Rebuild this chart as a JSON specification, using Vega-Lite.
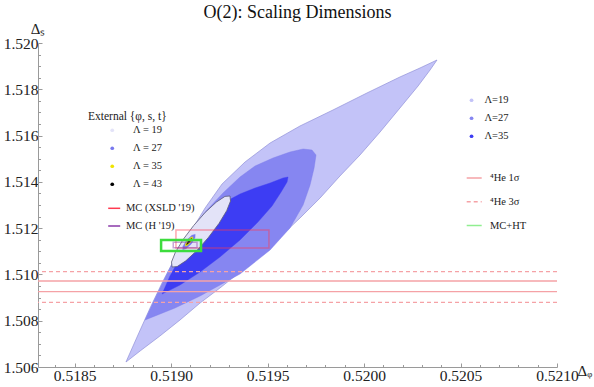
{
  "$schema": "https://vega.github.io/schema/vega-lite/v6.json",
  "width": 519,
  "height": 324,
  "autosize": "none",
  "padding": {"left": 38, "top": 43, "right": 37, "bottom": 20},
  "background": "white",
  "title": {"text": "O(2): Scaling Dimensions", "font": "Liberation Serif", "fontSize": 18, "fontWeight": "normal", "color": "#111", "anchor": "middle", "frame": "group", "offset": 5, "dy": 20, "baseline": "alphabetic"},
  "config": {
    "view": {"stroke": null},
    "legend": {"labelFont": "Liberation Serif", "labelFontSize": 10.5, "titleFont": "Liberation Serif", "titleFontSize": 11.5, "titleFontWeight": "normal", "titleColor": "#222", "labelColor": "#222", "padding": 0, "labelLimit": 400, "titleLimit": 400, "symbolOpacity": 1}
  },
  "datasets": {
    "main": [
      {"lam": "Λ=19", "i": 0, "x": 0.518766, "y": 1.506216},
      {"lam": "Λ=19", "i": 1, "x": 0.518828, "y": 1.507383},
      {"lam": "Λ=19", "i": 2, "x": 0.518891, "y": 1.508549},
      {"lam": "Λ=19", "i": 3, "x": 0.518953, "y": 1.509630},
      {"lam": "Λ=19", "i": 4, "x": 0.519020, "y": 1.510710},
      {"lam": "Λ=19", "i": 5, "x": 0.519098, "y": 1.511790},
      {"lam": "Λ=19", "i": 6, "x": 0.519176, "y": 1.512870},
      {"lam": "Λ=19", "i": 7, "x": 0.519264, "y": 1.513907},
      {"lam": "Λ=19", "i": 8, "x": 0.519383, "y": 1.514858},
      {"lam": "Λ=19", "i": 9, "x": 0.519513, "y": 1.515679},
      {"lam": "Λ=19", "i": 10, "x": 0.519668, "y": 1.516414},
      {"lam": "Λ=19", "i": 11, "x": 0.519839, "y": 1.517105},
      {"lam": "Λ=19", "i": 12, "x": 0.520015, "y": 1.517840},
      {"lam": "Λ=19", "i": 13, "x": 0.520186, "y": 1.518531},
      {"lam": "Λ=19", "i": 14, "x": 0.520290, "y": 1.518920},
      {"lam": "Λ=19", "i": 15, "x": 0.520378, "y": 1.519265},
      {"lam": "Λ=19", "i": 16, "x": 0.520342, "y": 1.518833},
      {"lam": "Λ=19", "i": 17, "x": 0.520280, "y": 1.518142},
      {"lam": "Λ=19", "i": 18, "x": 0.520186, "y": 1.517191},
      {"lam": "Λ=19", "i": 19, "x": 0.520083, "y": 1.516154},
      {"lam": "Λ=19", "i": 20, "x": 0.519979, "y": 1.515161},
      {"lam": "Λ=19", "i": 21, "x": 0.519875, "y": 1.514253},
      {"lam": "Λ=19", "i": 22, "x": 0.519772, "y": 1.513302},
      {"lam": "Λ=19", "i": 23, "x": 0.519668, "y": 1.512438},
      {"lam": "Λ=19", "i": 24, "x": 0.519564, "y": 1.511617},
      {"lam": "Λ=19", "i": 25, "x": 0.519461, "y": 1.510840},
      {"lam": "Λ=19", "i": 26, "x": 0.519357, "y": 1.510105},
      {"lam": "Λ=19", "i": 27, "x": 0.519253, "y": 1.509414},
      {"lam": "Λ=19", "i": 28, "x": 0.519150, "y": 1.508765},
      {"lam": "Λ=19", "i": 29, "x": 0.519046, "y": 1.508031},
      {"lam": "Λ=19", "i": 30, "x": 0.518942, "y": 1.507340},
      {"lam": "Λ=19", "i": 31, "x": 0.518839, "y": 1.506691},
      {"lam": "Λ=19", "i": 32, "x": 0.518766, "y": 1.506216},
      {"lam": "Λ=27", "i": 0, "x": 0.518865, "y": 1.508031},
      {"lam": "Λ=27", "i": 1, "x": 0.518906, "y": 1.508765},
      {"lam": "Λ=27", "i": 2, "x": 0.518958, "y": 1.509673},
      {"lam": "Λ=27", "i": 3, "x": 0.519020, "y": 1.510710},
      {"lam": "Λ=27", "i": 4, "x": 0.519098, "y": 1.511790},
      {"lam": "Λ=27", "i": 5, "x": 0.519176, "y": 1.512698},
      {"lam": "Λ=27", "i": 6, "x": 0.519269, "y": 1.513519},
      {"lam": "Λ=27", "i": 7, "x": 0.519357, "y": 1.514210},
      {"lam": "Λ=27", "i": 8, "x": 0.519435, "y": 1.514685},
      {"lam": "Λ=27", "i": 9, "x": 0.519528, "y": 1.515031},
      {"lam": "Λ=27", "i": 10, "x": 0.519616, "y": 1.515290},
      {"lam": "Λ=27", "i": 11, "x": 0.519684, "y": 1.515420},
      {"lam": "Λ=27", "i": 12, "x": 0.519730, "y": 1.515377},
      {"lam": "Λ=27", "i": 13, "x": 0.519751, "y": 1.515161},
      {"lam": "Λ=27", "i": 14, "x": 0.519741, "y": 1.514599},
      {"lam": "Λ=27", "i": 15, "x": 0.519720, "y": 1.513864},
      {"lam": "Λ=27", "i": 16, "x": 0.519684, "y": 1.513000},
      {"lam": "Λ=27", "i": 17, "x": 0.519616, "y": 1.512006},
      {"lam": "Λ=27", "i": 18, "x": 0.519513, "y": 1.511056},
      {"lam": "Λ=27", "i": 19, "x": 0.519357, "y": 1.510019},
      {"lam": "Λ=27", "i": 20, "x": 0.519150, "y": 1.509068},
      {"lam": "Λ=27", "i": 21, "x": 0.519020, "y": 1.508549},
      {"lam": "Λ=27", "i": 22, "x": 0.518865, "y": 1.508031},
      {"lam": "Λ=35", "i": 0, "x": 0.518953, "y": 1.509154},
      {"lam": "Λ=35", "i": 1, "x": 0.518994, "y": 1.509932},
      {"lam": "Λ=35", "i": 2, "x": 0.519046, "y": 1.510710},
      {"lam": "Λ=35", "i": 3, "x": 0.519113, "y": 1.511574},
      {"lam": "Λ=35", "i": 4, "x": 0.519186, "y": 1.512352},
      {"lam": "Λ=35", "i": 5, "x": 0.519269, "y": 1.513086},
      {"lam": "Λ=35", "i": 6, "x": 0.519357, "y": 1.513475},
      {"lam": "Λ=35", "i": 7, "x": 0.519435, "y": 1.513735},
      {"lam": "Λ=35", "i": 8, "x": 0.519513, "y": 1.513951},
      {"lam": "Λ=35", "i": 9, "x": 0.519580, "y": 1.514167},
      {"lam": "Λ=35", "i": 10, "x": 0.519606, "y": 1.514210},
      {"lam": "Λ=35", "i": 11, "x": 0.519601, "y": 1.513994},
      {"lam": "Λ=35", "i": 12, "x": 0.519570, "y": 1.513562},
      {"lam": "Λ=35", "i": 13, "x": 0.519523, "y": 1.512957},
      {"lam": "Λ=35", "i": 14, "x": 0.519450, "y": 1.512265},
      {"lam": "Λ=35", "i": 15, "x": 0.519357, "y": 1.511488},
      {"lam": "Λ=35", "i": 16, "x": 0.519253, "y": 1.510753},
      {"lam": "Λ=35", "i": 17, "x": 0.519150, "y": 1.510105},
      {"lam": "Λ=35", "i": 18, "x": 0.519046, "y": 1.509543},
      {"lam": "Λ=35", "i": 19, "x": 0.518953, "y": 1.509154}
    ],
    "ext": [
      {"lam": "Λ = 19", "i": 0, "x": 0.519305, "y": 1.513389},
      {"lam": "Λ = 19", "i": 1, "x": 0.519308, "y": 1.513173},
      {"lam": "Λ = 19", "i": 2, "x": 0.519288, "y": 1.512756},
      {"lam": "Λ = 19", "i": 3, "x": 0.519248, "y": 1.512203},
      {"lam": "Λ = 19", "i": 4, "x": 0.519193, "y": 1.511596},
      {"lam": "Λ = 19", "i": 5, "x": 0.519133, "y": 1.511028},
      {"lam": "Λ = 19", "i": 6, "x": 0.519076, "y": 1.510587},
      {"lam": "Λ = 19", "i": 7, "x": 0.519031, "y": 1.510338},
      {"lam": "Λ = 19", "i": 8, "x": 0.519005, "y": 1.510321},
      {"lam": "Λ = 19", "i": 9, "x": 0.519002, "y": 1.510537},
      {"lam": "Λ = 19", "i": 10, "x": 0.519022, "y": 1.510954},
      {"lam": "Λ = 19", "i": 11, "x": 0.519062, "y": 1.511507},
      {"lam": "Λ = 19", "i": 12, "x": 0.519117, "y": 1.512114},
      {"lam": "Λ = 19", "i": 13, "x": 0.519177, "y": 1.512682},
      {"lam": "Λ = 19", "i": 14, "x": 0.519234, "y": 1.513123},
      {"lam": "Λ = 19", "i": 15, "x": 0.519279, "y": 1.513372},
      {"lam": "Λ = 19", "i": 16, "x": 0.519305, "y": 1.513389},
      {"lam": "Λ = 27", "i": 0, "x": 0.519125, "y": 1.511736},
      {"lam": "Λ = 27", "i": 1, "x": 0.519124, "y": 1.511580},
      {"lam": "Λ = 27", "i": 2, "x": 0.519105, "y": 1.511319},
      {"lam": "Λ = 27", "i": 3, "x": 0.519078, "y": 1.511107},
      {"lam": "Λ = 27", "i": 4, "x": 0.519060, "y": 1.511066},
      {"lam": "Λ = 27", "i": 5, "x": 0.519061, "y": 1.511222},
      {"lam": "Λ = 27", "i": 6, "x": 0.519081, "y": 1.511483},
      {"lam": "Λ = 27", "i": 7, "x": 0.519107, "y": 1.511696},
      {"lam": "Λ = 27", "i": 8, "x": 0.519125, "y": 1.511736},
      {"lam": "Λ = 35", "i": 0, "x": 0.519112, "y": 1.511624},
      {"lam": "Λ = 35", "i": 1, "x": 0.519112, "y": 1.511530},
      {"lam": "Λ = 35", "i": 2, "x": 0.519100, "y": 1.511374},
      {"lam": "Λ = 35", "i": 3, "x": 0.519084, "y": 1.511246},
      {"lam": "Λ = 35", "i": 4, "x": 0.519073, "y": 1.511222},
      {"lam": "Λ = 35", "i": 5, "x": 0.519074, "y": 1.511316},
      {"lam": "Λ = 35", "i": 6, "x": 0.519085, "y": 1.511472},
      {"lam": "Λ = 35", "i": 7, "x": 0.519101, "y": 1.511600},
      {"lam": "Λ = 35", "i": 8, "x": 0.519112, "y": 1.511624},
      {"lam": "Λ = 43", "i": 0, "x": 0.519106, "y": 1.511557},
      {"lam": "Λ = 43", "i": 1, "x": 0.519097, "y": 1.511396},
      {"lam": "Λ = 43", "i": 2, "x": 0.519080, "y": 1.511289},
      {"lam": "Λ = 43", "i": 3, "x": 0.519089, "y": 1.511450},
      {"lam": "Λ = 43", "i": 4, "x": 0.519106, "y": 1.511557}
    ],
    "he": [
      {"he": "⁴He 1σ", "y": 1.509716},
      {"he": "⁴He 1σ", "y": 1.509254},
      {"he": "⁴He 3σ", "y": 1.510118},
      {"he": "⁴He 3σ", "y": 1.508796}
    ],
    "mc": [
      {"mc": "MC (XSLD '19)", "x": 0.519025, "x2": 0.519507, "y": 1.511142, "y2": 1.511920},
      {"mc": "MC (H '19)", "x": 0.519011, "x2": 0.519134, "y": 1.511155, "y2": 1.511388}
    ],
    "mcht": [
      {"name": "MC+HT", "x": 0.518948, "x2": 0.519155, "y": 1.511012, "y2": 1.511488}
    ]
  },
  "layer": [
    {
      "data": {"name": "main"},
      "encoding": {
        "x": {"field": "x", "type": "quantitative", "title": "Δᵩ",
          "scale": {"domain": [0.51831, 0.521], "nice": false, "zero": false},
          "axis": {
            "values": [0.5185, 0.519, 0.5195, 0.52, 0.5205, 0.521],
            "format": ".4f", "tickSize": -4,
            "grid": false, "domainColor": "#9a9a9a", "tickColor": "#9a9a9a", "domainWidth": 1, "tickWidth": 1,
            "labelFont": "Liberation Serif", "labelFontSize": 15.5, "labelColor": "#222", "labelPadding": 5, "labelFlush": false, "labelOverlap": false,
            "titleFont": "Liberation Serif", "titleFontSize": 15, "titleFontWeight": "normal", "titleColor": "#222", "titleAngle": 0,
            "titleX": 539, "titleY": 8, "titleAlign": "left", "titleBaseline": "alphabetic"
          }},
        "y": {"field": "y", "type": "quantitative", "title": "Δₛ",
          "scale": {"domain": [1.506, 1.52], "nice": false, "zero": false},
          "axis": {
            "values": [1.506, 1.508, 1.51, 1.512, 1.514, 1.516, 1.518, 1.52],
            "format": ".3f", "tickSize": -4,
            "grid": false, "domainColor": "#9a9a9a", "tickColor": "#9a9a9a", "domainWidth": 1, "tickWidth": 1,
            "labelFont": "Liberation Serif", "labelFontSize": 15.5, "labelColor": "#222", "labelPadding": 4, "labelFlush": false, "labelOverlap": false,
            "titleFont": "Liberation Serif", "titleFontSize": 15, "titleFontWeight": "normal", "titleColor": "#222", "titleAngle": 0,
            "titleX": 7, "titleY": -10, "titleAlign": "right", "titleBaseline": "alphabetic"
          }},
        "order": {"field": "i", "type": "quantitative"},
        "fill": {"field": "lam", "type": "nominal",
          "scale": {"domain": ["Λ=19", "Λ=27", "Λ=35"], "range": ["#c3c3f8", "#8686f1", "#3d3df3"]},
          "legend": {"title": null, "orient": "none", "legendX": 428.3, "legendY": 52, "symbolType": "circle", "symbolSize": 14, "symbolStrokeWidth": 0, "labelOffset": 7.7, "rowPadding": 7}}
      },
      "layer": [
        {"transform": [{"filter": "datum.lam == 'Λ=19'"}], "mark": {"type": "line", "stroke": "#9090d8", "strokeWidth": 0.7}},
        {"transform": [{"filter": "datum.lam == 'Λ=27'"}], "mark": {"type": "line", "stroke": "#7a7ae8", "strokeWidth": 0.4}},
        {"transform": [{"filter": "datum.lam == 'Λ=35'"}], "mark": {"type": "line", "stroke": "#3d3df3", "strokeWidth": 0.4}}
      ]
    },
    {
      "data": {"name": "he"},
      "mark": {"type": "rule", "strokeWidth": 1.3},
      "encoding": {
        "y": {"field": "y", "type": "quantitative", "axis": null, "scale": {"domain": [1.506, 1.52], "nice": false, "zero": false}},
        "stroke": {"field": "he", "type": "nominal",
          "scale": {"domain": ["⁴He 1σ", "⁴He 3σ", "MC+HT"], "range": ["#f5a2a6", "#f5a2a6", "#90ee90"]},
          "legend": {"title": null, "orient": "none", "legendX": 427.7, "legendY": 126.5, "symbolType": "stroke", "symbolSize": 225, "symbolStrokeWidth": 1.5, "labelOffset": 7.3, "rowPadding": 9.8}},
        "strokeDash": {"field": "he", "type": "nominal",
          "scale": {"domain": ["⁴He 1σ", "⁴He 3σ", "MC+HT"], "range": [[1, 0], [4, 3], [1, 0]]},
          "legend": {"title": null, "orient": "none", "legendX": 427.7, "legendY": 126.5, "symbolType": "stroke", "symbolSize": 225, "symbolStrokeWidth": 1.5, "labelOffset": 7.3, "rowPadding": 9.8}}
      }
    },
    {
      "data": {"name": "ext"},
      "encoding": {
        "x": {"field": "x", "type": "quantitative", "axis": null, "scale": {"domain": [0.51831, 0.521], "nice": false, "zero": false}},
        "y": {"field": "y", "type": "quantitative", "axis": null, "scale": {"domain": [1.506, 1.52], "nice": false, "zero": false}},
        "order": {"field": "i", "type": "quantitative"},
        "fill": {"field": "lam", "type": "nominal",
          "scale": {"domain": ["Λ = 19", "Λ = 27", "Λ = 35", "Λ = 43"], "range": ["#e3e3f8", "#7878ee", "#f0e400", "#000000"]},
          "legend": {"title": "External {φ, s, t}", "orient": "none", "legendX": 50, "legendY": 68, "symbolType": "circle", "symbolSize": 14, "symbolStrokeWidth": 0, "symbolOffset": 19, "labelOffset": 15.6, "titlePadding": 2.5, "rowPadding": 7}}
      },
      "layer": [
        {"transform": [{"filter": "datum.lam == 'Λ = 19'"}], "mark": {"type": "line", "stroke": "#5a5a78", "strokeWidth": 0.8}},
        {"transform": [{"filter": "datum.lam == 'Λ = 27'"}], "mark": {"type": "line", "stroke": "#7878ee", "strokeWidth": 0.3}},
        {"transform": [{"filter": "datum.lam == 'Λ = 35'"}], "mark": {"type": "line", "stroke": "#f0e400", "strokeWidth": 0.3}},
        {"transform": [{"filter": "datum.lam == 'Λ = 43'"}], "mark": {"type": "line", "stroke": "#000000", "strokeWidth": 0.5}}
      ]
    },
    {
      "data": {"name": "mc"},
      "mark": {"type": "rect", "filled": false, "strokeWidth": 1.5, "strokeOpacity": 0.45},
      "encoding": {
        "x": {"field": "x", "type": "quantitative", "axis": null, "scale": {"domain": [0.51831, 0.521], "nice": false, "zero": false}},
        "x2": {"field": "x2"},
        "y": {"field": "y", "type": "quantitative", "axis": null, "scale": {"domain": [1.506, 1.52], "nice": false, "zero": false}},
        "y2": {"field": "y2"},
        "stroke": {"field": "mc", "type": "nominal",
          "scale": {"domain": ["MC (XSLD '19)", "MC (H '19)"], "range": ["#ff3a50", "#8a3aa8"]},
          "legend": {"title": null, "orient": "none", "legendX": 69.2, "legendY": 158.3, "symbolType": "stroke", "symbolSize": 144, "symbolStrokeWidth": 1.5, "labelOffset": 4.8, "rowPadding": 4.7,
            "encode": {"symbols": {"update": {"strokeOpacity": {"value": 1}}}}}}
      }
    },
    {
      "data": {"name": "mcht"},
      "mark": {"type": "rect", "filled": false, "stroke": "#3ddc3d", "strokeWidth": 2.5},
      "encoding": {
        "x": {"field": "x", "type": "quantitative", "scale": {"domain": [0.51831, 0.521], "nice": false, "zero": false},
          "axis": {"orient": "bottom", "title": null, "labels": false, "domain": false, "grid": false, "tickSize": -2.5, "tickColor": "#9a9a9a", "tickWidth": 1,
            "values": [0.5184,0.5186,0.5187,0.5188,0.5189,0.5191,0.5192,0.5193,0.5194,0.5196,0.5197,0.5198,0.5199,0.5201,0.5202,0.5203,0.5204,0.5206,0.5207,0.5208,0.5209]}},
        "x2": {"field": "x2"},
        "y": {"field": "y", "type": "quantitative", "scale": {"domain": [1.506, 1.52], "nice": false, "zero": false},
          "axis": {"orient": "left", "title": null, "labels": false, "domain": false, "grid": false, "tickSize": -2.5, "tickColor": "#9a9a9a", "tickWidth": 1,
            "values": [1.5065,1.507,1.5075,1.5085,1.509,1.5095,1.5105,1.511,1.5115,1.5125,1.513,1.5135,1.5145,1.515,1.5155,1.5165,1.517,1.5175,1.5185,1.519,1.5195]}},
        "y2": {"field": "y2"}
      }
    }
  ],
  "resolve": {"scale": {"fill": "independent", "stroke": "independent", "strokeDash": "independent"}, "axis": {"x": "independent", "y": "independent"}}
}
